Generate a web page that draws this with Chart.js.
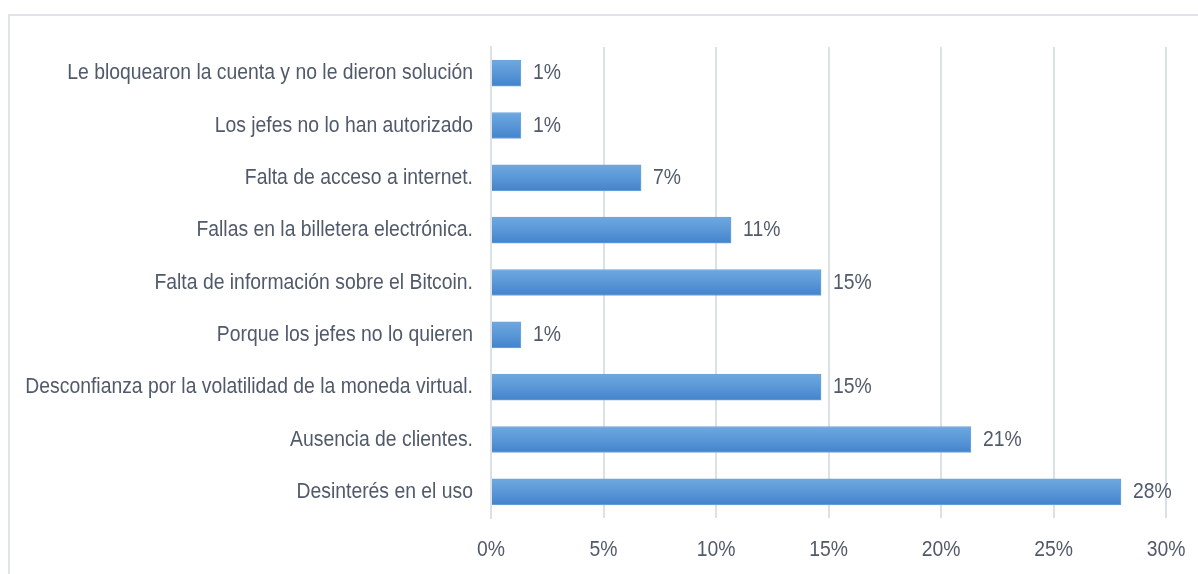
<!DOCTYPE html>
<html>
<head>
<meta charset="utf-8">
<script src="https://cdn.jsdelivr.net/npm/chart.js@4.4.1/dist/chart.umd.min.js"></script>
<style>
  html, body { margin: 0; padding: 0; background: #fff; }
  #wrap { position: relative; width: 1198px; height: 574px; overflow: hidden; }
  #frame { position: absolute; left: 8px; top: 14px; width: 1400px; height: 800px;
           border: 2px solid #e0e4ea; box-sizing: border-box; }
  #chart { position: absolute; left: 0; top: 0; }
</style>
</head>
<body>
<div id="wrap">
  <div id="frame"></div>
  <canvas id="chart" width="1198" height="574"></canvas>
</div>
<script>
  const categories = [
    'Le bloquearon la cuenta y no le dieron solución',
    'Los jefes no lo han autorizado',
    'Falta de acceso a internet.',
    'Fallas en la billetera electrónica.',
    'Falta de información sobre el Bitcoin.',
    'Porque los jefes no lo quieren',
    'Desconfianza por la volatilidad de la moneda virtual.',
    'Ausencia de clientes.',
    'Desinterés en el uso'
  ];
  const percentages = [1.33, 1.33, 6.67, 10.67, 14.67, 1.33, 14.67, 21.33, 28.0];
  const xTicks = [0, 5, 10, 15, 20, 25, 30];

  const textColor = '#515a6a';
  const labelFont = '22px "Liberation Sans", Arial, sans-serif';
  const squeeze = 0.88; // the original text is a tall, narrow face
  const barThickness = 26;

  // light top, darker bottom like the office gradient fill
  function barGradient(ctx) {
    const chart = ctx.chart;
    const y = chart.scales.y;
    if (!y || ctx.dataIndex === undefined) return '#5b9bd5';
    const cy = y.getPixelForValue(ctx.dataIndex);
    if (!isFinite(cy)) return '#5b9bd5';
    const g = chart.ctx.createLinearGradient(0, cy - barThickness / 2, 0, cy + barThickness / 2);
    g.addColorStop(0, '#6fa8df');
    g.addColorStop(0.5, '#5997d7');
    g.addColorStop(1, '#4383cb');
    return g;
  }

  function narrowText(ctx, text, x, y, align) {
    ctx.save();
    ctx.translate(x, y);
    ctx.scale(squeeze, 1);
    ctx.textAlign = align;
    ctx.fillText(text, 0, 0);
    ctx.restore();
  }

  // axis labels and value labels, drawn condensed
  const textLabels = {
    id: 'textLabels',
    afterDraw(chart) {
      const ctx = chart.ctx;
      const xs = chart.scales.x;
      const ys = chart.scales.y;
      const meta = chart.getDatasetMeta(0);
      ctx.save();
      ctx.font = labelFont;
      ctx.fillStyle = textColor;
      ctx.textBaseline = 'middle';
      chart.data.labels.forEach((lab, i) => {
        narrowText(ctx, lab, ys.right - 18, ys.getPixelForValue(i), 'right');
      });
      xTicks.forEach(v => {
        narrowText(ctx, v + '%', xs.getPixelForValue(v), xs.top + 32, 'center');
      });
      meta.data.forEach((bar, i) => {
        narrowText(ctx, Math.round(percentages[i]) + '%', bar.x + 12, bar.y, 'left');
      });
      ctx.restore();
    }
  };

  new Chart(document.getElementById('chart'), {
    type: 'bar',
    data: {
      labels: categories,
      datasets: [{
        data: percentages,
        backgroundColor: barGradient,
        borderColor: '#6ea5da',
        borderWidth: 1,
        barThickness: barThickness
      }]
    },
    options: {
      indexAxis: 'y',
      responsive: false,
      animation: false,
      layout: { padding: { top: 47, right: 32, bottom: 0, left: 0 } },
      plugins: {
        legend: { display: false },
        tooltip: { enabled: false }
      },
      scales: {
        x: {
          min: 0,
          max: 30,
          afterBuildTicks(scale) {
            scale.ticks = xTicks.map(v => ({ value: v }));
          },
          afterFit(scale) { scale.height = 56; },
          grid: { color: '#dce1e8', lineWidth: 2, drawTicks: false },
          border: { display: false },
          ticks: { display: false }
        },
        y: {
          afterFit(scale) { scale.width = 491; },
          grid: { display: false, drawTicks: false },
          border: { display: true, color: '#dce1e8', width: 2 },
          ticks: { display: false }
        }
      }
    },
    plugins: [textLabels]
  });
</script>
</body>
</html>
